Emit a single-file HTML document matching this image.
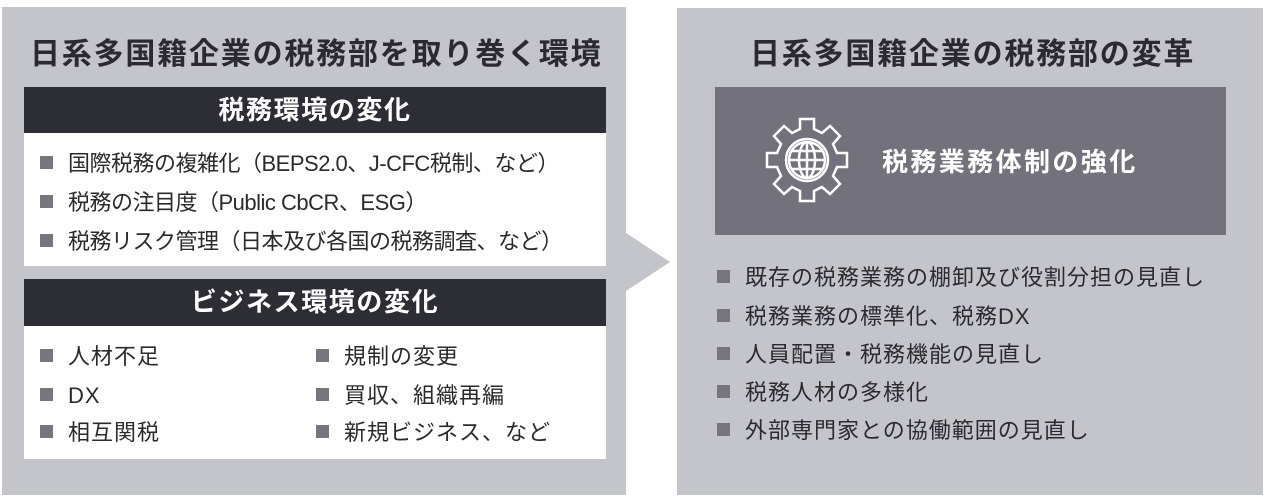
<!DOCTYPE html>
<html><head><meta charset="utf-8"><style>
body{margin:0;width:1265px;height:501px;background:#fff;position:relative;overflow:hidden;font-family:"Liberation Sans","Noto Sans CJK JP",sans-serif;color:#222;}
.a{position:absolute}
.panel{background:#c4c4cb}
.title{font-size:30px;letter-spacing:1.8px;font-weight:bold;color:#2a2a30;white-space:nowrap}
.hd{background:#2d2d36;color:#fff;font-weight:bold;font-size:26px;letter-spacing:1.6px;text-align:center;line-height:46px}
.wb{background:#fff}
.li{font-size:22px;letter-spacing:1px;white-space:nowrap;color:#2a2a2f;line-height:24px}
.li:before{content:"";display:inline-block;width:13px;height:13px;background:#77767f;margin-right:15px;vertical-align:2px}
.t{letter-spacing:-0.5px}
</style></head><body>
<div class="a panel" style="left:2px;top:7px;width:624px;height:488px"></div>
<svg class="a" style="left:620px;top:225px" width="60" height="80"><polygon points="6,8 50,37 6,66" fill="#c4c4cb"/></svg>
<div class="a panel" style="left:677px;top:8px;width:586px;height:487px"></div>
<div class="a title" style="left:30px;top:29px">日系多国籍企業の税務部を取り巻く環境</div>
<div class="a hd" style="left:24px;top:87px;width:582px;height:46px">税務環境の変化</div>
<div class="a wb" style="left:24px;top:133px;width:582px;height:133px"></div>
<div class="a li t" style="left:40px;top:152px">国際税務の複雑化（BEPS2.0、J-CFC税制、など）</div>
<div class="a li t" style="left:40px;top:191px">税務の注目度（Public CbCR、ESG）</div>
<div class="a li t" style="left:40px;top:230px">税務リスク管理（日本及び各国の税務調査、など）</div>
<div class="a hd" style="left:24px;top:279px;width:582px;height:47px">ビジネス環境の変化</div>
<div class="a wb" style="left:24px;top:326px;width:582px;height:133px"></div>
<div class="a li" style="left:40px;top:345px">人材不足</div>
<div class="a li" style="left:40px;top:384px">DX</div>
<div class="a li" style="left:40px;top:421px">相互関税</div>
<div class="a li" style="left:316px;top:345px">規制の変更</div>
<div class="a li" style="left:316px;top:384px">買収、組織再編</div>
<div class="a li" style="left:316px;top:421px">新規ビジネス、など</div>
<div class="a title" style="left:750px;top:29px">日系多国籍企業の税務部の変革</div>
<div class="a" style="left:715px;top:87px;width:511px;height:148px;background:#72717c"></div>
<svg class="a" style="left:762px;top:115px" width="90" height="90" viewBox="0 0 90 90">
<g fill="none" stroke="#fff" stroke-width="2.5">
<path d="M38,4 H52 V14 L60,18 L68,11 L78,21 L71,29 L75,38 H85 V52 H75 L71,61 L78,69 L68,79 L60,72 L52,76 V86 H38 V76 L30,72 L22,79 L12,69 L19,61 L15,52 H5 V38 H15 L19,29 L12,21 L22,11 L30,18 L38,14 Z"/>
<circle cx="45" cy="45" r="21"/><circle cx="45" cy="45" r="18"/>
<ellipse cx="45" cy="45" rx="8" ry="18"/>
<line x1="45" y1="27" x2="45" y2="63"/><line x1="27" y1="45" x2="63" y2="45"/>
<line x1="30" y1="36" x2="60" y2="36"/><line x1="30" y1="54" x2="60" y2="54"/>
</g></svg>
<div class="a" style="left:882px;top:142px;font-size:26px;letter-spacing:2.4px;font-weight:bold;color:#fff;white-space:nowrap">税務業務体制の強化</div>
<div class="a li" style="left:717px;top:266px">既存の税務業務の棚卸及び役割分担の見直し</div>
<div class="a li" style="left:717px;top:305px">税務業務の標準化、税務DX</div>
<div class="a li" style="left:717px;top:343px">人員配置・税務機能の見直し</div>
<div class="a li" style="left:717px;top:381px">税務人材の多様化</div>
<div class="a li" style="left:717px;top:419px">外部専門家との協働範囲の見直し</div>
</body></html>
